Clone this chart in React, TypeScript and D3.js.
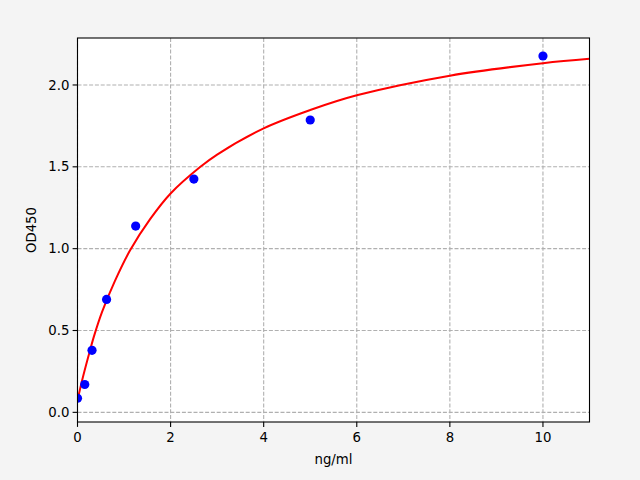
import { scaleLinear, line, curveCatmullRom, format } from "d3";

// standard concentrations and measured OD
const concentrations = [0, 0.156, 0.312, 0.625, 1.25, 2.5, 5, 10];
const odValues = [0.086, 0.17, 0.379, 0.69, 1.138, 1.425, 1.786, 2.177];

// fitted curve
const curveX = [0, 0.1, 0.23, 0.36, 0.53, 0.8, 1.13, 1.56, 2.0, 2.64, 3.0, 4.0, 5.0, 6.0, 8.0, 10.0, 11.0];
const curveY = [0.073, 0.196, 0.338, 0.47, 0.615, 0.8, 0.99, 1.18, 1.337, 1.5, 1.575, 1.735, 1.847, 1.937, 2.057, 2.133, 2.16];

const xTicks = [0, 2, 4, 6, 8, 10];
const yTicks = [0, 0.5, 1.0, 1.5, 2.0];

const W = 640;
const H = 480;
const left = 77.5;
const right = 589.5;
const top = 38;
const bottom = 422;

export default function App() {
    const x = scaleLinear().domain([0, 11]).range([left, right]);
    const y = scaleLinear().domain([-0.059, 2.287]).range([bottom, top]);
    const fmtY = format(".1f");

    const path = line<number>()
        .x((_, i) => x(curveX[i]))
        .y((d) => y(d))
        .curve(curveCatmullRom.alpha(0.5))(curveY);

    const font = "'DejaVu Sans', sans-serif";

    return (
        <svg
            width={W}
            height={H}
            style={{ position: "absolute", left: 0, top: 0 }}
            fontFamily={font}
        >
            <rect width={W} height={H} fill="#f4f4f4" />
            <rect x={left} y={top} width={right - left} height={bottom - top} fill="#fff" />

            {/* grid */}
            {xTicks.map((t) => (
                <line
                    key={`gx${t}`}
                    x1={x(t)}
                    x2={x(t)}
                    y1={top}
                    y2={bottom}
                    stroke="#b0b0b0"
                    strokeWidth={1.1}
                    strokeDasharray="4,1.8"
                />
            ))}
            {yTicks.map((t) => (
                <line
                    key={`gy${t}`}
                    x1={left}
                    x2={right}
                    y1={y(t)}
                    y2={y(t)}
                    stroke="#b0b0b0"
                    strokeWidth={1.1}
                    strokeDasharray="4,1.8"
                />
            ))}

            <defs>
                <clipPath id="plot">
                    <rect x={left} y={top} width={right - left} height={bottom - top} />
                </clipPath>
            </defs>

            {/* fitted curve */}
            <path d={path ?? ""} fill="none" stroke="#ff0000" strokeWidth={2} clipPath="url(#plot)" />

            {/* points */}
            <g clipPath="url(#plot)">
                {concentrations.map((c, i) => (
                    <circle key={i} cx={x(c)} cy={y(odValues[i])} r={4.6} fill="#0000ff" />
                ))}
            </g>

            {/* spines */}
            <rect
                x={left}
                y={top}
                width={right - left}
                height={bottom - top}
                fill="none"
                stroke="#000"
                strokeWidth={1.1}
            />

            {/* x ticks */}
            {xTicks.map((t) => (
                <g key={`tx${t}`} transform={`translate(${x(t)},${bottom})`}>
                    <line y2={4.9} stroke="#000" strokeWidth={1.1} />
                    <text y={20} textAnchor="middle" fontSize={13.3} fill="#000">
                        {t}
                    </text>
                </g>
            ))}
            {/* y ticks */}
            {yTicks.map((t) => (
                <g key={`ty${t}`} transform={`translate(${left},${y(t)})`}>
                    <line x2={-4.9} stroke="#000" strokeWidth={1.1} />
                    <text x={-8} dy="0.35em" textAnchor="end" fontSize={13.3} fill="#000">
                        {fmtY(t)}
                    </text>
                </g>
            ))}

            {/* axis titles */}
            <text x={(left + right) / 2} y={464} textAnchor="middle" fontSize={13.3} fill="#000">
                ng/ml
            </text>
            <text
                transform={`translate(36,${(top + bottom) / 2}) rotate(-90)`}
                textAnchor="middle"
                fontSize={13.3}
                fill="#000"
            >
                OD450
            </text>
        </svg>
    );
}
